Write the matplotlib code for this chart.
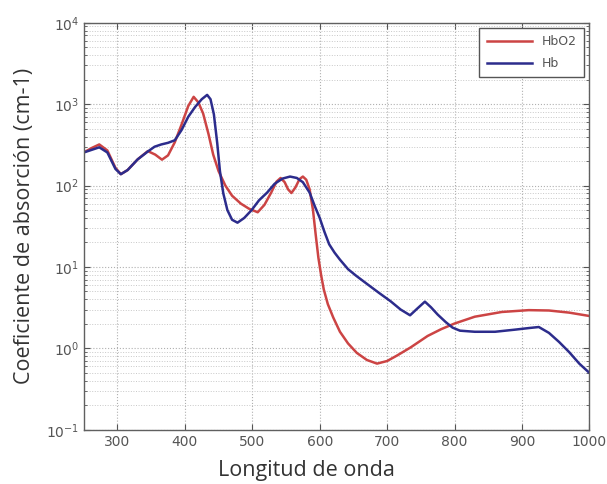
import matplotlib
matplotlib.use("Agg")
import matplotlib.pyplot as plt
from matplotlib.ticker import LogLocator, FixedLocator

# HbO2 absorption (cm-1) vs wavelength (nm)
hbo2_nm = [250, 262, 273, 285, 297, 305, 315, 330, 345, 356, 366, 375, 385,
           395, 405, 413, 420, 427, 435, 442, 450, 460, 470, 483, 495, 508,
           518, 528, 536, 542, 548, 553, 558, 564, 570, 575, 580, 585, 590,
           594, 598, 602, 606, 612, 620, 630, 642, 655, 670, 685, 700, 715,
           735, 760, 780, 800, 830, 870, 910, 940, 970, 1000]
hbo2_mu = [255, 290, 320, 270, 165, 138, 155, 210, 265, 240, 208, 235, 340,
           560, 950, 1230, 1050, 770, 430, 240, 150, 100, 75, 60, 52, 47,
           58, 82, 112, 124, 110, 90, 81, 95, 120, 129, 118, 90, 50,
           25, 13, 8, 5.3, 3.5, 2.4, 1.6, 1.15, 0.88, 0.72, 0.65, 0.70, 0.82,
           1.03, 1.42, 1.72, 2.02, 2.45, 2.8, 2.95, 2.92, 2.75, 2.5]

# Hb absorption (cm-1) vs wavelength (nm)
hb_nm = [250, 262, 273, 285, 297, 305, 315, 330, 345, 355, 365, 375, 385,
         395, 405, 415, 425, 433, 438, 443, 448, 452, 457, 463, 470, 478,
         488, 499, 510, 522, 533, 545, 556, 566, 575, 585, 593, 600, 607,
         614, 622, 630, 642, 654, 670, 688, 705, 720, 734, 745, 756, 765,
         775, 787, 797, 808, 830, 860, 890, 911, 925, 940, 955, 970, 985, 1000]
hb_mu = [255, 275, 295, 255, 160, 138, 155, 210, 262, 300, 320, 335, 360,
         480, 700, 920, 1150, 1300, 1150, 750, 330, 150, 80, 50, 38, 35,
         40, 50, 66, 82, 105, 122, 129, 124, 110, 82, 55, 40, 27,
         19, 15, 12.3, 9.4, 7.8, 6.2, 4.8, 3.8, 3.0, 2.55, 3.1, 3.75, 3.2,
         2.6, 2.1, 1.8, 1.65, 1.6, 1.6, 1.7, 1.78, 1.83, 1.55, 1.2, 0.9, 0.65, 0.5]

x_ticks = [300, 400, 500, 600, 700, 800, 900, 1000]

fig = plt.figure(figsize=(6.07, 4.84), dpi=100)
ax = fig.add_axes([0.138, 0.112, 0.833, 0.841])

ax.plot(hbo2_nm, hbo2_mu, color="#cc4444", lw=1.8, label="HbO2")
ax.plot(hb_nm, hb_mu, color="#2c2c8c", lw=1.8, label="Hb")

ax.set_yscale("log")
ax.set_xlim(250, 1000)
ax.set_ylim(0.1, 1e4)
ax.xaxis.set_major_locator(FixedLocator(x_ticks))
ax.yaxis.set_major_locator(LogLocator(base=10, numticks=10))
ax.yaxis.set_minor_locator(LogLocator(base=10, subs=range(2, 10), numticks=10))

ax.grid(True, which="major", ls=":", color="#b0b0b0", lw=0.8)
ax.grid(True, which="minor", axis="y", ls=":", color="#c8c8c8", lw=0.7)
ax.tick_params(which="both", direction="in", top=True, right=True,
               colors="#555555", labelsize=10)
ax.tick_params(which="major", length=4)
ax.tick_params(which="minor", length=2.5)
for s in ax.spines.values():
    s.set_color("#606060")
    s.set_linewidth(1.0)

ax.set_xlabel("Longitud de onda", fontsize=15.5, family="Open Sans",
              color="#333333", va="center")
ax.xaxis.set_label_coords(0.441, -0.10)
ax.set_ylabel("Coeficiente de absorción (cm-1)", fontsize=15.5,
              family="Open Sans", color="#333333", va="center")
ax.yaxis.set_label_coords(-0.117, 0.5)

leg = ax.legend(loc="upper right", fontsize=9, handlelength=3.6,
                fancybox=False, framealpha=1, borderpad=0.6,
                labelspacing=0.7, borderaxespad=0.4)
leg.get_frame().set_edgecolor("#555555")
for t in leg.get_texts():
    t.set_color("#555555")

fig.savefig("out.png", dpi=100)
